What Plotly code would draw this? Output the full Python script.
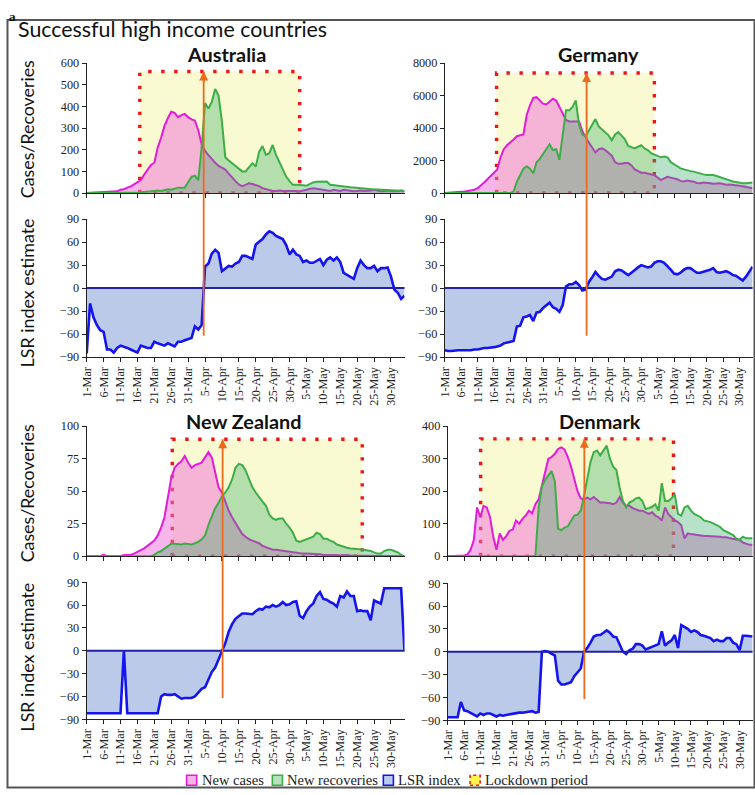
import plotly.graph_objects as go

W, H = 755, 795
N_DAYS = 95
days = list(range(N_DAYS))

tick_days = list(range(0, 91, 5))
tick_labels = ['1-Mar', '6-Mar', '11-Mar', '16-Mar', '21-Mar', '26-Mar', '31-Mar',
               '5-Apr', '10-Apr', '15-Apr', '20-Apr', '25-Apr', '30-Apr', '5-May',
               '10-May', '15-May', '20-May', '25-May', '30-May']

countries = ['Australia', 'Germany', 'New Zealand', 'Denmark']

# ---------------- Australia ----------------
au_cases = [0, 1, 1, 2, 2, 3, 4, 5, 6, 8,
            15, 18, 25, 30, 40, 50, 60, 85, 110, 130,
            140, 210, 255, 310, 345, 375, 370, 350, 360, 365,
            350, 340, 335, 290, 225, 195, 175, 155, 140, 125,
            118, 108, 90, 70, 55, 40, 32, 38, 45, 42,
            38, 32, 23, 18, 12, 10, 10, 12, 10, 10,
            10, 12, 10, 8, 10, 15, 20, 22, 20, 18,
            15, 12, 10, 15, 12, 10, 15, 12, 10, 8,
            10, 12, 10, 10, 12, 15, 10, 8, 10, 12,
            10, 8, 10, 12, 10]
au_recov = [0, 0, 0, 0, 0, 0, 0, 0, 0, 0,
            0, 0, 0, 0, 0, 2, 3, 5, 5, 8,
            10, 12, 10, 15, 18, 15, 20, 25, 25, 25,
            50, 75, 80, 60, 210, 415, 390, 420, 480, 450,
            330, 165, 150, 138, 125, 115, 100, 100, 120, 138,
            122, 190, 217, 176, 184, 222, 176, 140, 107, 76,
            55, 38, 38, 38, 36, 34, 42, 49, 52, 53,
            53, 53, 38, 36, 34, 30, 29, 28, 27, 26,
            24, 22, 20, 19, 18, 17, 16, 15, 14, 13,
            12, 12, 11, 11, 10]
au_lsr = [-85, -20, -38, -48, -55, -57, -80, -80, -84, -78,
          -75, -76, -78, -80, -82, -84, -75, -76, -78, -78,
          -70, -72, -74, -75, -72, -74, -76, -70, -70, -68,
          -66, -65, -50, -54, -48, 28, 32, 45, 50, 46,
          22, 26, 29, 28, 32, 34, 42, 42, 40, 38,
          57, 60, 64, 70, 74, 72, 68, 66, 64, 56,
          44, 50, 44, 42, 34, 36, 33, 33, 35, 38,
          30, 37, 40, 36, 40, 34, 20, 17, 15, 12,
          26, 36, 30, 26, 26, 29, 22, 26, 26, 27,
          15, -2, -6, -14, -10]

# ---------------- Germany ----------------
de_cases = [0, 10, 20, 30, 50, 80, 100, 130, 160, 200,
            300, 450, 650, 850, 1050, 1250, 1450, 2200, 2700, 2950,
            3100, 3300, 3500, 3550, 3600, 4800, 5400, 5850, 5900, 5700,
            5500, 5450, 5600, 5800, 5700, 5300, 4900, 4500, 4400, 4400,
            4400, 4400, 3800, 3400, 3100, 2800, 2500, 2700, 2750, 2650,
            2500, 2300, 1900, 1800, 1800, 1850, 1850, 1700, 1450, 1350,
            1250, 1250, 1200, 1150, 1100, 950, 800, 900, 1000, 950,
            900, 850, 750, 720, 770, 750, 700, 620, 600, 650,
            640, 600, 570, 600, 610, 560, 510, 520, 510, 500,
            450, 420, 380, 340, 300]
de_recov = [0, 0, 0, 0, 0, 0, 0, 0, 0, 0,
            0, 0, 0, 0, 0, 0, 0, 0, 0, 0,
            0, 100, 700, 1100, 1500, 1650, 1500, 1200, 1900, 2100,
            2400, 2700, 3000, 2650, 2700, 2050, 3500, 5100, 5100, 5300,
            5700, 4200, 3600, 3500, 3850, 4200, 4550, 4100, 3900, 3700,
            3550, 3250, 3600, 3750, 3550, 3300, 2900, 2800, 2750, 2850,
            2950, 2750, 2650, 2450, 2350, 2250, 2200, 2250, 2200, 1900,
            1800, 1650, 1520, 1450, 1420, 1350, 1320, 1250, 1175, 1150,
            1110, 1100, 1110, 1050, 970, 900, 850, 780, 710, 660,
            610, 600, 610, 620, 650]
de_lsr = [-81, -82, -82, -81, -81, -81, -81, -81, -81, -80,
          -80, -79, -78, -78, -77, -77, -76, -75, -72, -71,
          -70, -69, -50, -49, -38, -37, -35, -43, -32, -31,
          -26, -22, -19, -25, -27, -31, -22, 2, 5, 5,
          8, 4, -3, -2, 8, 14, 21, 16, 12, 11,
          13, 15, 22, 24, 23, 20, 17, 20, 24, 27,
          30, 29, 27, 28, 33, 35, 35, 33, 29, 24,
          19, 18, 20, 24, 26, 26, 23, 20, 20, 21,
          23, 24, 26, 21, 20, 21, 22, 20, 17, 16,
          13, 10, 15, 22, 28]

# ---------------- New Zealand ----------------
nz_cases = [0, 0, 0, 0, 0, 1, 0, 0, 0, 0,
            0, 1, 1, 1, 2, 3, 4.6, 6, 8, 10,
            12, 16, 22, 30, 45, 60, 68, 71, 73, 77,
            72, 68, 70, 71, 72, 76, 80, 76, 65, 53,
            49, 42, 35, 30, 26, 21, 17, 15, 13, 12,
            11, 10, 8, 7, 6, 5, 5, 4.6, 4, 3.5,
            3.3, 3, 2.5, 2, 2, 2, 2, 1.5, 2, 1.5,
            1, 1, 1.5, 1, 1, 0.5, 1, 1, 0.5, 0.5,
            0.5, 0.5, 0, 0.5, 0, 0, 0.5, 0, 0, 0,
            0.5, 0, 0, 0, 0]
nz_recov = [0, 0, 0, 0, 0, 0, 0, 0, 0, 0,
            0, 0, 0, 0, 0, 0, 0, 0, 0, 0,
            1, 3, 4, 6, 8, 9.5, 9.5, 9, 9, 9.7,
            9.5, 9, 10, 11, 13, 16, 24, 31, 37, 41,
            46, 49, 53, 59, 68, 71, 70, 66, 60, 53,
            49, 45, 42, 39, 32, 29, 28, 29, 29, 25,
            22, 18, 12, 11, 12, 13, 14, 15, 18, 17,
            13.5, 13.5, 12, 11, 9, 8, 7, 6.5, 6, 6,
            5.5, 5.4, 5, 4.5, 4, 3, 2, 2, 4, 5,
            5, 4, 3, 1, 0]
nz_lsr = [-82, -82, -82, -82, -82, -82, -82, -82, -82, -82,
          -82, 0, -82, -82, -82, -82, -82, -82, -82, -82,
          -82, -82, -60, -57, -58, -58, -57, -60, -63, -62,
          -62, -62, -60, -55, -50, -48, -38, -28, -22, -12,
          0, 10, 25, 35, 42, 46, 49, 49, 48, 48,
          52, 55, 54, 58, 57, 60, 58, 60, 64, 60,
          61, 64, 65, 46, 43, 52, 58, 62, 72, 77,
          68, 67, 64, 62, 58, 72, 70, 78, 72, 72,
          52, 53, 52, 52, 40, 66, 64, 62, 82, 82,
          82, 82, 82, 82, 0]

# ---------------- Denmark ----------------
dk_cases = [0, 0, 0, 0, 1, 2, 5, 20, 50, 150,
            120, 155, 150, 120, 60, 20, 70, 50, 62, 78,
            82, 110, 100, 115, 125, 140, 132, 160, 175, 215,
            260, 300, 305, 315, 330, 335, 328, 305, 275, 235,
            200, 178, 175, 180, 175, 182, 172, 165, 165, 165,
            163, 160, 165, 182, 165, 155, 155, 148, 145, 140,
            140, 135, 130, 135, 125, 120, 110, 150, 130, 120,
            110, 105, 95, 55, 70, 68, 66, 65, 63, 62,
            62, 62, 61, 60, 60, 58, 58, 55, 53, 52,
            50, 42, 38, 35, 35]
dk_recov = [0, 0, 0, 0, 0, 0, 0, 0, 0, 0,
            0, 0, 0, 0, 0, 0, 0, 0, 0, 0,
            0, 0, 0, 0, 0, 0, 0, 0, 150, 215,
            235, 250, 262, 230, 85, 80, 88, 92, 110, 125,
            128, 140, 185, 235, 290, 320, 325, 310, 325, 340,
            300, 275, 265, 210, 170, 150, 165, 170, 178, 180,
            170, 145, 148, 152, 160, 140, 225, 170, 170, 178,
            190, 130, 125, 150, 155, 140, 130, 125, 120, 110,
            108, 105, 100, 95, 90, 80, 75, 70, 65, 55,
            50, 60, 55, 55, 55]
dk_lsr = [-86, -86, -86, -86, -66, -77, -78, -80, -83, -85,
          -81, -83, -81, -81, -83, -85, -83, -84, -83, -82,
          -82, -81, -80, -80, -79, -78, -78, -80, -79, 0,
          1, 0, -2, -5, -38, -43, -43, -41, -40, -32,
          -27, -22, 0, 5, 12, 20, 22, 22, 25, 28,
          25, 20, 19, 10, 0, -3, 2, 4, 10, 10,
          8, 3, 5, 6, 8, 10, 27, 8, 12, 15,
          22, 5, 35, 33, 30, 26, 28, 26, 22, 21,
          20, 18, 14, 16, 14, 14, 18, 18, 12, 10,
          2, 21, 21, 20, 20]

cases = [au_cases, de_cases, nz_cases, dk_cases]
recoveries = [au_recov, de_recov, nz_recov, dk_recov]
lsr = [au_lsr, de_lsr, nz_lsr, dk_lsr]

# lockdown period (start day, end day, top value) and LSR zero-crossing marker day
lockdown_start = [15.7, 15.8, 25.3, 10.1]
lockdown_end = [63.0, 64.0, 81.5, 69.6]
lockdown_top = [561, 7390, 90, 361]
marker_day = [34.6, 43.3, 40.2, 42.1]
marker_low = -62

case_ymax = [600, 8000, 100, 400]
case_dtick = [100, 2000, 25, 100]
lsr_ticks = [-90, -60, -30, 0, 30, 60, 90]

legend_names = ['New cases', 'New recoveries', 'LSR index', 'Lockdown period']

# ---------------- styling / layout geometry ----------------
CASE_LINE = '#E31CD8'
CASE_FILL = 'rgba(240,110,215,0.5)'
REC_LINE = '#3DAE47'
REC_FILL = 'rgba(50,170,100,0.35)'
LSR_LINE = '#1414EE'
LSR_FILL = '#BCCAE9'
ZERO_LINE = '#2020A8'
LOCK_FILL = '#FAFAD2'
LOCK_LINE = '#F01515'
ORANGE = '#EC6A1E'
AXIS = '#222222'
SERIF = 'Liberation Serif'
SANS = 'Lato'

# The page snapshot is inset (about 7 px each side, scale ~0.982); positions below are
# measured on the target picture and converted into figure pixels.
SNAP_SCALE = 0.982
SNAP_OFF = 7.0


def cpx(p):
    return (p - SNAP_OFF) / SNAP_SCALE


def fs(size):
    return size / SNAP_SCALE


# pixel geometry of the panels (target picture coordinates)
x_spans = [(86, 401), (441, 746), (86, 401), (444, 746)]
top_spans = [(63, 193), (63, 193), (426, 556), (426, 556)]
low_spans = [(219, 357), (219, 357), (582, 719), (583, 720)]
title_pos = [(225, 54), (593, 54), (242, 421), (595, 421)]
legend_icon_x = [185, 270, 380, 466]
legend_fill = ['#F6B4E6', '#B6E0BE', LSR_FILL, '#FFF34A']
legend_edge = [CASE_LINE, REC_LINE, LSR_LINE, LOCK_LINE]
LEGEND_Y = 780


def fx(p):
    return min(max(cpx(p), 0.5), W - 0.5) / W


def fy(p):
    return 1 - min(max(cpx(p), 0.5), H - 0.5) / H


def sfx(i):
    return '' if i == 1 else str(i)


def to_paper(v, dom, rng):
    return dom[0] + (v - rng[0]) / (rng[1] - rng[0]) * (dom[1] - dom[0])


fig = go.Figure()
layout = dict(
    width=W, height=H, margin=dict(l=0, r=0, t=0, b=0),
    paper_bgcolor='white', plot_bgcolor='rgba(0,0,0,0)',
    showlegend=False,
)
shapes = []
annotations = []

tick_font = dict(family=SERIF, size=fs(12), color='#222')

for k, name in enumerate(countries):
    it = 2 * k + 1
    il = 2 * k + 2
    xdom = [fx(x_spans[k][0]), fx(x_spans[k][1])]
    tdom = [fy(top_spans[k][1]), fy(top_spans[k][0])]
    ldom = [fy(low_spans[k][1]), fy(low_spans[k][0])]
    trange = [0, case_ymax[k]]
    lrange = [-90, 90]
    xt, yt = 'x' + sfx(it), 'y' + sfx(it)
    xl, yl = 'x' + sfx(il), 'y' + sfx(il)

    common_x = dict(range=[0, N_DAYS - 1], showgrid=False, zeroline=False, showline=True,
                    linecolor=AXIS, linewidth=1.2, ticks='outside', ticklen=4,
                    tickcolor=AXIS, tickvals=tick_days)
    layout['xaxis' + sfx(it)] = dict(domain=xdom, anchor=yt, showticklabels=False, **common_x)
    layout['xaxis' + sfx(il)] = dict(domain=xdom, anchor=yl, showticklabels=True,
                                     ticktext=tick_labels, tickangle=-90, tickfont=tick_font,
                                     **common_x)
    common_y = dict(showgrid=False, zeroline=False, showline=True, linecolor=AXIS,
                    linewidth=1.2, ticks='outside', ticklen=4, tickcolor=AXIS,
                    tickfont=tick_font)
    layout['yaxis' + sfx(it)] = dict(domain=tdom, anchor=xt, range=trange,
                                     tickvals=list(range(0, case_ymax[k] + 1, case_dtick[k])),
                                     **common_y)
    layout['yaxis' + sfx(il)] = dict(domain=ldom, anchor=xl, range=lrange,
                                     tickvals=lsr_ticks, **common_y)

    s, e, t = lockdown_start[k], lockdown_end[k], lockdown_top[k]
    fig.add_trace(go.Scatter(x=[s, s, e, e, s], y=[0, t, t, 0, 0], xaxis=xt, yaxis=yt,
                             mode='lines', fill='toself', fillcolor=LOCK_FILL,
                             line=dict(color=LOCK_LINE, width=3.4, dash='3.4px,9.6px'),
                             name=legend_names[3], hoverinfo='skip'))
    fig.add_trace(go.Scatter(x=days, y=cases[k], xaxis=xt, yaxis=yt, mode='lines',
                             fill='tozeroy', fillcolor=CASE_FILL, name=legend_names[0],
                             line=dict(color=CASE_LINE, width=2)))
    fig.add_trace(go.Scatter(x=days, y=recoveries[k], xaxis=xt, yaxis=yt, mode='lines',
                             fill='tozeroy', fillcolor=REC_FILL, name=legend_names[1],
                             line=dict(color=REC_LINE, width=2)))
    fig.add_trace(go.Scatter(x=days, y=lsr[k], xaxis=xl, yaxis=yl, mode='lines',
                             fill='tozeroy', fillcolor=LSR_FILL, name=legend_names[2],
                             line=dict(color=LSR_LINE, width=2.6)))

    shapes.append(dict(type='line', xref=xl + ' domain', yref=yl, x0=0, x1=1, y0=0, y1=0,
                       line=dict(color=ZERO_LINE, width=2), layer='above'))
    y_low = to_paper(marker_low, ldom, lrange)
    y_high = to_paper(t, tdom, trange)
    shapes.append(dict(type='line', xref=xt, yref='paper', x0=marker_day[k], x1=marker_day[k],
                       y0=y_low, y1=y_high, line=dict(color=ORANGE, width=1.8), layer='above'))
    annotations.append(dict(xref=xt, yref=yt, axref=xt, ayref=yt, x=marker_day[k], y=t,
                            ax=marker_day[k], ay=t * 0.9, text='', showarrow=True,
                            arrowhead=2, arrowsize=1, arrowwidth=1.8, arrowcolor=ORANGE))

    annotations.append(dict(xref='paper', yref='paper', x=fx(title_pos[k][0]),
                            y=fy(title_pos[k][1]), text='<b>' + name + '</b>',
                            showarrow=False, xanchor='center', yanchor='middle', borderpad=0,
                            font=dict(family=SANS, size=fs(19.5), color='#111')))

for (txt, yc) in [('Cases/Recoveries', 129), ('LSR index estimate', 293),
                  ('Cases/Recoveries', 493), ('LSR index estimate', 657)]:
    annotations.append(dict(xref='paper', yref='paper', x=fx(27), y=fy(yc), text=txt,
                            textangle=-90, showarrow=False, xanchor='center', yanchor='middle',
                            borderpad=0, font=dict(family=SANS, size=fs(17.5), color='#111')))

annotations.append(dict(xref='paper', yref='paper', x=fx(17), y=fy(29),
                        text='Successful high income countries', showarrow=False,
                        xanchor='left', yanchor='middle', borderpad=0,
                        font=dict(family=SANS, size=fs(21), color='#111')))
annotations.append(dict(xref='paper', yref='paper', x=0.001, y=0.999, text='<b>a</b>',
                        showarrow=False, xanchor='left', yanchor='top', borderpad=0,
                        font=dict(family=SERIF, size=fs(13), color='#111')))

# legend (icon boxes + labels)
for i, lab in enumerate(legend_names):
    x0 = legend_icon_x[i]
    shapes.append(dict(type='rect', xref='paper', yref='paper',
                       x0=fx(x0), x1=fx(x0 + 10), y0=fy(LEGEND_Y + 5), y1=fy(LEGEND_Y - 5),
                       fillcolor=legend_fill[i],
                       line=dict(color=legend_edge[i], width=1.6,
                                 dash='dot' if i == 3 else 'solid')))
    annotations.append(dict(xref='paper', yref='paper', x=fx(x0 + 14), y=fy(LEGEND_Y),
                            text=lab, showarrow=False, xanchor='left', yanchor='middle',
                            borderpad=0, font=dict(family=SERIF, size=fs(14.3), color='#222')))

# outer frame
shapes.append(dict(type='rect', xref='paper', yref='paper', x0=fx(3), x1=fx(752),
                   y0=fy(792), y1=fy(20), line=dict(color='#555', width=2),
                   fillcolor='rgba(0,0,0,0)', layer='above'))

layout['shapes'] = shapes
layout['annotations'] = annotations
fig.update_layout(**layout)
fig.write_html('out.html', config={'displayModeBar': False},
               post_script="document.body.style.margin='0px';"
                           "document.body.style.overflow='hidden';"
                           "document.documentElement.style.overflow='hidden';")
